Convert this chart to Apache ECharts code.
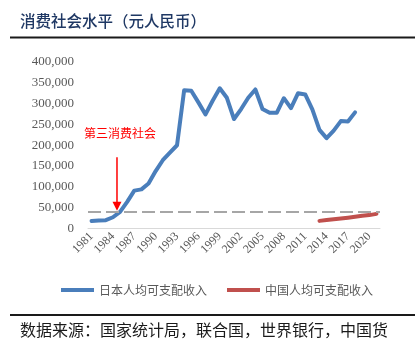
<!DOCTYPE html>
<html>
<head>
<meta charset="utf-8">
<script src="https://cdn.jsdelivr.net/npm/echarts@6/dist/echarts.min.js"></script>
<style>html,body{margin:0;padding:0;background:#fff;}#c{width:419px;height:343px;}</style>
</head>
<body>
<div id="c"></div>
<script>
const years = [];
for (let y = 1981; y <= 2021; y++) years.push(String(y));
const japanIncome = [18000, 19000, 20000, 27000, 40000, 64000, 91000, 94000, 108000, 138000,
  164000, 182000, 200000, 332000, 331000, 303000, 274000, 307000, 337000, 314000,
  263000, 287000, 314000, 334000, 287000, 278000, 278000, 313000, 289000, 325000,
  322000, 286000, 237000, 217000, 235000, 258000, 257000, 279000, null, null, null];
const chinaIncome = [null, null, null, null, null, null, null, null, null, null,
  null, null, null, null, null, null, null, null, null, null,
  null, null, null, null, null, null, null, null, null, null,
  null, null, 18311, 20167, 21966, 23821, 25974, 28228, 30733, 32189, 35128];
const thresholdValue = 40000;
const seriesNames = ['日本人均可支配收入', '中国人均可支配收入'];
const titleText = '消费社会水平（元人民币）';
const noteText = '第三消费社会';
const sourceText = '数据来源：国家统计局，联合国，世界银行，中国货';

const chart = echarts.init(document.getElementById('c'));
const serif = '"Liberation Serif", "Times New Roman", serif';
const cjk = '"Noto Sans CJK SC", sans-serif';
chart.setOption({
  animation: false,
  backgroundColor: '#fff',
  grid: { left: 88, right: 39, top: 62, bottom: 114.5, containLabel: false },
  legend: {
    left: 56, top: 279,
    itemWidth: 33, itemHeight: 4, itemGap: 20,
    icon: 'rect',
    textStyle: { fontFamily: cjk, fontSize: 12, color: '#595959' },
    data: seriesNames
  },
  xAxis: {
    type: 'category', data: years, boundaryGap: true,
    axisLine: { lineStyle: { color: '#d9d9d9', width: 1 } },
    axisTick: { show: false },
    axisLabel: { interval: 2, rotate: 45, margin: 6, fontFamily: serif, fontSize: 12, color: '#595959' }
  },
  yAxis: {
    type: 'value', min: 0, max: 400000, interval: 50000,
    axisLine: { show: false }, axisTick: { show: false },
    splitLine: { show: false },
    axisLabel: { margin: 14, fontFamily: serif, fontSize: 13, color: '#595959',
      formatter: v => v.toLocaleString('en-US') }
  },
  series: [
    { name: seriesNames[0], type: 'line', data: japanIncome, symbol: 'none',
      lineStyle: { color: '#4a7ebb', width: 4, cap: 'round', join: 'round' }, itemStyle: { color: '#4a7ebb' },
      markLine: { silent: true, symbol: 'none', label: { show: false },
        lineStyle: { color: '#a6a6a6', width: 2, type: [13, 5] },
        data: [{ yAxis: thresholdValue }] } },
    { name: seriesNames[1], type: 'line', data: chinaIncome, symbol: 'none',
      lineStyle: { color: '#c0504d', width: 4, cap: 'round', join: 'round' }, itemStyle: { color: '#c0504d' } }
  ]
});

const x84 = chart.convertToPixel({ xAxisIndex: 0 }, '1984');
const x85 = chart.convertToPixel({ xAxisIndex: 0 }, '1985');
const ax = (x84 + x85) / 2 + 0.5;
const yTop = chart.convertToPixel({ yAxisIndex: 0 }, 171000);
const yTip = chart.convertToPixel({ yAxisIndex: 0 }, 42500);
chart.setOption({
  graphic: [
    { type: 'text', left: 20, top: 13, style: { text: titleText, fontFamily: cjk, fontSize: 15.5, fill: '#1f3864', fontWeight: 500 } },
    { type: 'rect', shape: { x: 10, y: 36.5, width: 405, height: 2 }, style: { fill: '#1a1a1a' } },
    { type: 'rect', shape: { x: 10, y: 314, width: 405, height: 2 }, style: { fill: '#1a1a1a' } },
    { type: 'text', left: 20, top: 322, style: { text: sourceText, fontFamily: cjk, fontSize: 16, fill: '#1a1a1a' } },
    { type: 'text', left: 84, top: 127, style: { text: noteText, fontFamily: cjk, fontSize: 12, fill: '#ff0000' } },
    { type: 'line', shape: { x1: ax, y1: yTop, x2: ax, y2: yTip - 8 }, style: { stroke: '#ff0000', lineWidth: 1.5 } },
    { type: 'polygon', shape: { points: [[ax - 4.5, yTip - 9], [ax + 4.5, yTip - 9], [ax, yTip]] }, style: { fill: '#ff0000' } }
  ]
});
</script>
</body>
</html>
